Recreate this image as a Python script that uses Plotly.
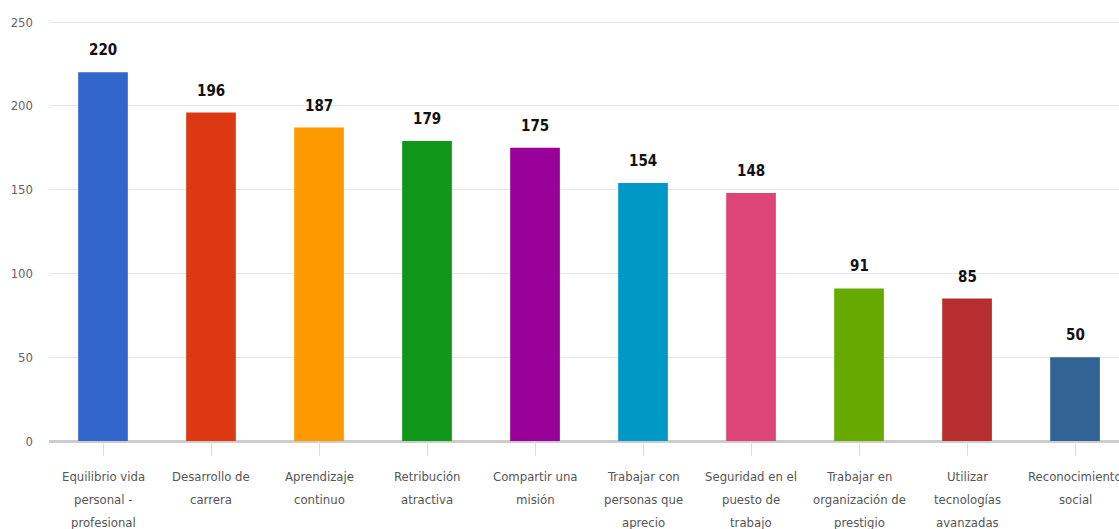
import plotly.graph_objects as go

categories = [
    "Equilibrio vida<br>personal -<br>profesional",
    "Desarrollo de<br>carrera",
    "Aprendizaje<br>continuo",
    "Retribución<br>atractiva",
    "Compartir una<br>misión",
    "Trabajar con<br>personas que<br>aprecio",
    "Seguridad en el<br>puesto de<br>trabajo",
    "Trabajar en<br>organización de<br>prestigio",
    "Utilizar<br>tecnologías<br>avanzadas",
    "Reconocimiento<br>social",
]
values = [220, 196, 187, 179, 175, 154, 148, 91, 85, 50]
colors = ["#3366cc", "#dc3912", "#ff9900", "#109618", "#990099",
          "#0099c6", "#dd4477", "#66aa00", "#b82e2e", "#316395"]
y_ticks = [0, 50, 100, 150, 200, 250]

FONT = "Liberation Sans Narrow, DejaVu Sans Condensed, Roboto, sans-serif"
xs = list(range(len(categories)))

fig = go.Figure()
fig.add_trace(go.Bar(
    x=xs, y=values, marker=dict(color=colors, line=dict(width=0)),
    width=0.46, hoverinfo="skip",
))

annotations = []
for i, (v, c) in enumerate(zip(values, categories)):
    annotations.append(dict(
        x=i, y=v, xref="x", yref="y", text=str(v), showarrow=False,
        yanchor="bottom", yshift=11,
        font=dict(family=FONT, size=15, color="#111111", weight="bold"),
    ))
    for j, line in enumerate(c.split("<br>")):
        annotations.append(dict(
            x=i, y=0, xref="x", yref="paper", text=line, showarrow=False,
            yanchor="middle", yshift=-35 - 23 * j,
            font=dict(family=FONT, size=13, color="#555555"),
        ))

fig.update_layout(
    width=1119, height=529,
    margin=dict(l=49, r=0, t=20, b=88),
    paper_bgcolor="white", plot_bgcolor="white",
    showlegend=False, bargap=0.5,
    annotations=annotations,
    xaxis=dict(
        range=[-0.5, 9.407], tickmode="array", tickvals=xs,
        ticktext=[""] * len(xs), tickson="boundaries",
        ticks="outside", ticklen=14, tickcolor="#dddddd", tickwidth=1,
        showgrid=False, showline=False, zeroline=False,
    ),
    yaxis=dict(
        range=[0, 251.2], tickmode="array", tickvals=y_ticks,
        showgrid=True, gridcolor="#e6e6e6", gridwidth=1,
        zeroline=True, zerolinecolor="#cccccc", zerolinewidth=3,
        ticks="", ticklabelstandoff=15,
        tickfont=dict(family=FONT, size=13, color="#666666"),
    ),
)

fig.write_html("out.html")
